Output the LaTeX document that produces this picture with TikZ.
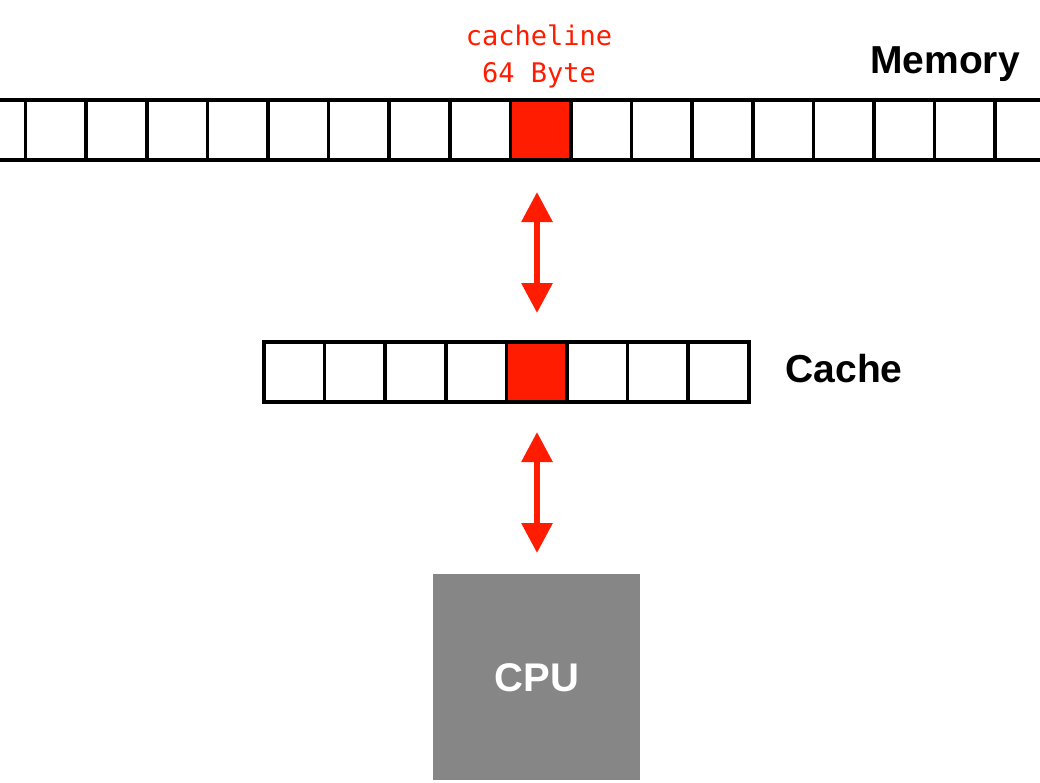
\documentclass[tikz,border=0pt]{standalone}
\usepackage{fontspec}
\setmainfont{Liberation Sans}
\newfontfamily\monofam{DejaVu Sans Mono}
\usetikzlibrary{arrows.meta}
\definecolor{linered}{RGB}{255,28,0}
\definecolor{cpugray}{RGB}{134,134,134}
\tikzset{
  cell/.style={draw=black, line width=3.6pt, fill=white, minimum width=60.6pt, minimum height=60.5pt, inner sep=0pt, outer sep=0pt},
  redcell/.style={cell, fill=linered},
  dblarrow/.style={draw=linered, line width=6pt, {Triangle[width=30pt,length=30pt]}-{Triangle[width=30pt,length=30pt]}},
  lbl/.style={font=\bfseries\fontsize{39}{44}\selectfont, text=black, anchor=base, inner sep=0pt},
  redlbl/.style={font=\monofam\fontsize{27}{30}\selectfont, text=linered, anchor=base, inner sep=0pt},
}
\begin{document}
\begin{tikzpicture}[x=1pt,y=-1pt]
\useasboundingbox[fill=white] (0,0) rectangle (1040,782);
% memory row
\foreach \k in {0,...,18} {
  \ifnum\k=9
    \node[redcell] (m\k) at ({25.5+30.3+60.6*(\k-1)},130) {};
  \else
    \node[cell] (m\k) at ({25.5+30.3+60.6*(\k-1)},130) {};
  \fi
}
% cache row
\foreach \k in {0,...,7} {
  \ifnum\k=4
    \node[redcell] (c\k) at ({264+30.3+60.6*\k},372) {};
  \else
    \node[cell] (c\k) at ({264+30.3+60.6*\k},372) {};
  \fi
}
% CPU
\node[fill=cpugray, minimum width=207pt, minimum height=206pt, inner sep=0pt, anchor=north west] (cpu) at (433,574) {};
\node[lbl, text=white, font=\bfseries\fontsize{40}{44}\selectfont] (cputxt) at (537,691) {CPU};
% labels
\node[redlbl] (cl1) at (539,45) {cacheline};
\node[redlbl] (cl2) at (539,82) {64 Byte};
\node[lbl] (memtxt) at (945,73) {Memory};
\node[lbl] (cachetxt) at (844,382) {Cache};
% arrows
\coordinate (a1t) at (537,192);
\coordinate (a1b) at (537,313);
\coordinate (a2t) at (537,432);
\coordinate (a2b) at (537,553);
\draw[dblarrow] (a1t) -- (a1b);
\draw[dblarrow] (a2t) -- (a2b);
\end{tikzpicture}
\end{document}
